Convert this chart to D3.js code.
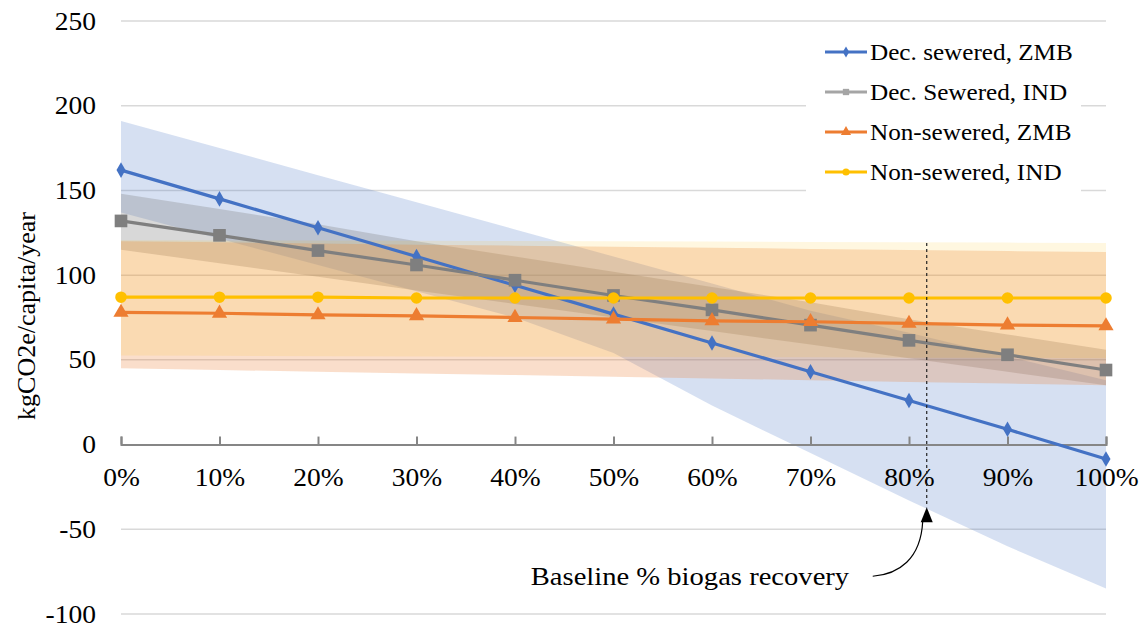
<!DOCTYPE html>
<html>
<head>
<meta charset="utf-8">
<script src="https://cdn.jsdelivr.net/npm/d3@7"></script>
<style>
  html, body { margin: 0; padding: 0; background: #fff; }
  svg { display: block; }
  text { font-family: "Liberation Serif", "Times New Roman", serif; fill: #000; }
</style>
</head>
<body>
<svg id="chart" width="1146" height="629"></svg>
<script>
// Share of biogas recovered (x categories)
const recovery = [0, 10, 20, 30, 40, 50, 60, 70, 80, 90, 100];
const recoveryLabels = ["0%", "10%", "20%", "30%", "40%", "50%", "60%", "70%", "80%", "90%", "100%"];
const yTicks = [-100, -50, 0, 50, 100, 150, 200, 250];

// Central estimates, kgCO2e/capita/year
const decSewZMB = [162, 145, 128, 111, 94, 77, 60, 43, 26, 9, -8.5];
const decSewIND = [132, 123.5, 114.5, 106, 97, 88, 79.5, 70.5, 61.5, 53, 44];
const nonSewZMB = [78, 77.5, 76.5, 76, 75, 74, 73, 72.5, 71.5, 70.5, 70];
const nonSewIND = [87, 87, 87, 86.5, 86.5, 86.5, 86.5, 86.5, 86.5, 86.5, 86.5];

// Uncertainty ranges (low / high)
const decSewZMBLow  = [137, 121.5, 106, 90.5, 75, 54, 23, -5, -33, -60, -85];
const decSewZMBHigh = [191, 175, 159, 143, 127, 111, 95, 79, 66, 52, 38];
const decSewINDLow  = [115, 107, 99, 91, 83, 75, 67, 59, 51, 43, 35];
const decSewINDHigh = [148, 139, 130, 120, 111, 102, 93, 84, 74, 65, 56];
const nonSewZMBLow  = [45, 44, 43, 42, 41, 40, 39, 38, 37, 36, 35];
const nonSewZMBHigh = [120, 119.4, 118.7, 118, 117.4, 116.8, 116.2, 115.5, 114.9, 114.2, 113.6];
const nonSewINDLow  = [52.5, 52.4, 52.2, 52, 51.9, 51.8, 51.6, 51.5, 51.3, 51.2, 51];
const nonSewINDHigh = [120.6, 120.5, 120.4, 120.3, 120.2, 120, 119.8, 119.6, 119.4, 119.2, 119];

// Baseline biogas recovery marker
const baselineRecovery = 81.8;
const baselineLabel = "Baseline % biogas recovery";
const yAxisTitle = "kgCO2e/capita/year";

const series = [
  { name: "Dec. sewered, ZMB", values: decSewZMB, low: decSewZMBLow, high: decSewZMBHigh,
    color: "#4472C4", legendColor: "#4472C4", band: "rgba(68,114,196,0.22)", symbol: d3.symbolDiamond, size: 70, legendSize: 36 },
  { name: "Dec. Sewered, IND", values: decSewIND, low: decSewINDLow, high: decSewINDHigh,
    color: "#7F7F7F", legendColor: "#A5A5A5", band: "rgba(127,127,127,0.30)", symbol: d3.symbolSquare, size: 160, legendSize: 40 },
  { name: "Non-sewered, ZMB", values: nonSewZMB, low: nonSewZMBLow, high: nonSewZMBHigh,
    color: "#ED7D31", legendColor: "#ED7D31", band: "rgba(237,125,49,0.25)", symbol: d3.symbolTriangle, size: 100, legendSize: 45 },
  { name: "Non-sewered, IND", values: nonSewIND, low: nonSewINDLow, high: nonSewINDHigh,
    color: "#FFC000", legendColor: "#FFC000", band: "rgba(255,192,0,0.12)", symbol: d3.symbolCircle, size: 105, legendSize: 40 }
];

const svg = d3.select("#chart");
const x = d3.scaleLinear().domain([0, 100]).range([121, 1106]);
const y = d3.scaleLinear().domain([-100, 250]).range([614, 21]);
const stretch = 1.1; // glyphs are slightly wide

// Gridlines
svg.append("g").selectAll("line")
  .data(yTicks.filter(d => d !== 0))
  .join("line")
  .attr("x1", x(0)).attr("x2", x(100))
  .attr("y1", d => y(d)).attr("y2", d => y(d))
  .attr("stroke", "#D9D9D9").attr("stroke-width", 1.5);

// Uncertainty bands
const bandG = svg.append("g");
series.forEach(s => {
  const area = d3.area()
    .x((d, i) => x(recovery[i]))
    .y0((d, i) => y(s.low[i]))
    .y1((d, i) => y(s.high[i]));
  bandG.append("path").datum(recovery).attr("d", area).attr("fill", s.band);
});

// Y axis labels
const yAxis = svg.append("g").attr("transform", `translate(${x(0)},0)`)
  .call(d3.axisLeft(y).tickValues(yTicks).tickSize(0).tickPadding(25).tickFormat(d => String(d)));
yAxis.select(".domain").remove();
yAxis.selectAll("text").attr("font-size", 25).attr("font-family", null)
  .attr("transform", `scale(${stretch},1)`).attr("x", -25 / stretch);

// X axis at zero
const xAxis = svg.append("g").attr("transform", `translate(0,${y(0)})`)
  .call(d3.axisBottom(x).tickValues(recovery).tickSize(-8).tickPadding(24)
    .tickFormat((d, i) => recoveryLabels[i]));
xAxis.select(".domain").attr("stroke", "#868686").attr("stroke-width", 2);
xAxis.selectAll(".tick line").attr("stroke", "#868686").attr("stroke-width", 2);
xAxis.selectAll("text").attr("font-size", 25).attr("font-family", null)
  .attr("transform", `scale(${stretch},1)`).attr("x", 0);

// Y axis title
svg.append("text")
  .attr("transform", `translate(35,316) rotate(-90)`)
  .attr("text-anchor", "middle")
  .attr("font-size", 26)
  .text(yAxisTitle);

// Series lines and markers
series.forEach(s => {
  const line = d3.line().x((d, i) => x(recovery[i])).y(d => y(d));
  svg.append("path").datum(s.values).attr("d", line)
    .attr("fill", "none").attr("stroke", s.color).attr("stroke-width", 3.2);
  svg.append("g").selectAll("path")
    .data(s.values)
    .join("path")
    .attr("transform", (d, i) => `translate(${x(recovery[i])},${y(d)})`)
    .attr("d", d3.symbol().type(s.symbol).size(s.size))
    .attr("fill", s.color);
});

// Baseline marker with arrow and label
const bx = x(baselineRecovery);
svg.append("line")
  .attr("x1", bx).attr("x2", bx)
  .attr("y1", y(119)).attr("y2", y(-37))
  .attr("stroke", "#222").attr("stroke-width", 1.2).attr("stroke-dasharray", "3,3");
const tipY = y(-37);
svg.append("path")
  .attr("d", `M${bx},${tipY} L${bx - 6},${tipY + 15} L${bx + 6},${tipY + 15} Z`)
  .attr("fill", "#000");
svg.append("path")
  .attr("d", `M${bx - 54},${tipY + 69} C${bx - 28},${tipY + 67} ${bx - 6},${tipY + 52} ${bx - 4},${tipY + 14}`)
  .attr("fill", "none").attr("stroke", "#000").attr("stroke-width", 1.2);
svg.append("g").attr("transform", `translate(${bx - 396},${tipY + 78}) scale(${stretch},1)`)
  .append("text").attr("font-size", 26).text(baselineLabel);

// Legend
const legend = svg.append("g");
legend.append("rect").attr("x", 806).attr("y", 26).attr("width", 275).attr("height", 168).attr("fill", "#fff");
series.forEach((s, i) => {
  const ly = 52 + i * 40;
  legend.append("line").attr("x1", 825).attr("x2", 867).attr("y1", ly).attr("y2", ly)
    .attr("stroke", s.legendColor).attr("stroke-width", 3);
  legend.append("path").attr("transform", `translate(846,${ly})`)
    .attr("d", d3.symbol().type(s.symbol).size(s.legendSize)).attr("fill", s.legendColor);
  legend.append("g").attr("transform", `translate(870,${ly}) scale(1.05,1)`)
    .append("text").attr("font-size", 24).attr("dy", "0.35em").text(s.name);
});
</script>
</body>
</html>
